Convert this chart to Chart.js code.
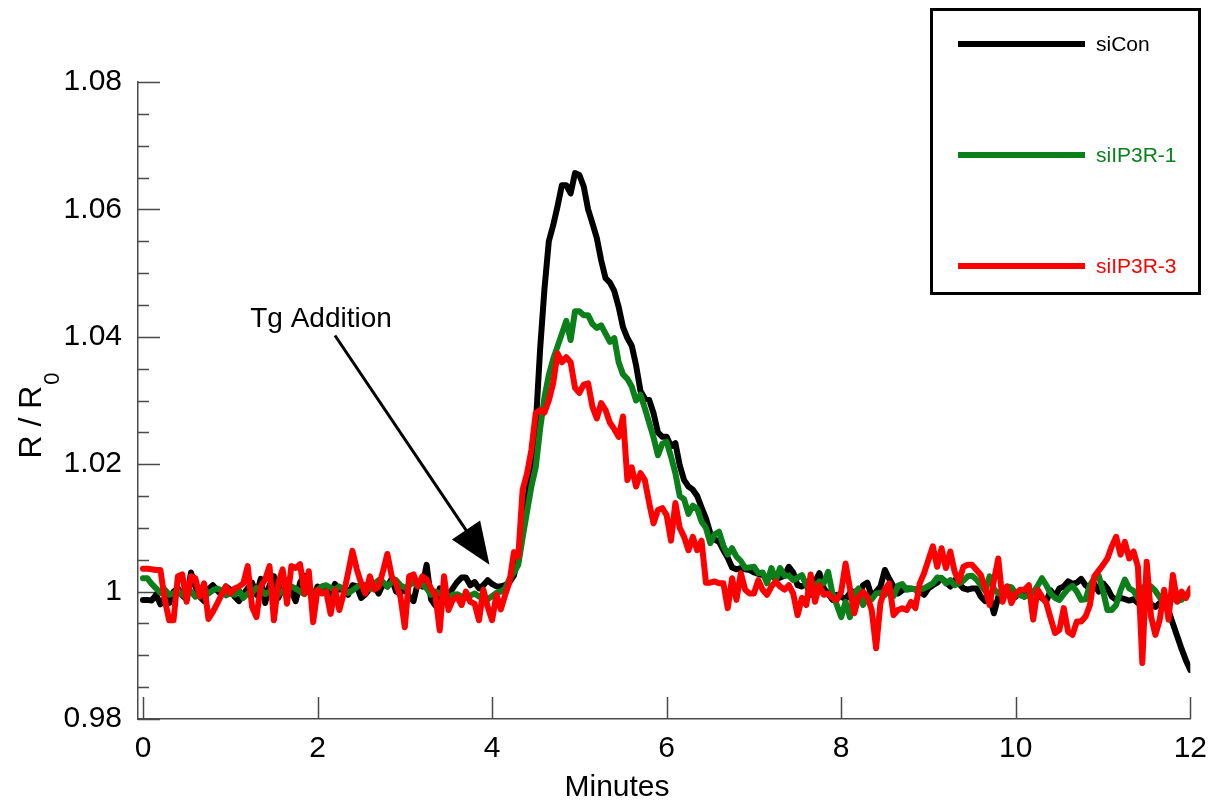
<!DOCTYPE html>
<html lang="en">
<head>
    <meta charset="UTF-8">
    <title>R / R0 after Tg addition</title>
    <script src="https://cdn.jsdelivr.net/npm/chart.js"></script>
    <style>
        body {
            margin: 0;
            background: #fff;
        }
        canvas {
            display: block;
        }
    </style>
</head>
<body>
<canvas id="traceChart" width="1219" height="807"></canvas>

<script>
    const seriesNames = ['siCon', 'siIP3R-1', 'siIP3R-3'];

    // time axis (minutes), one sample every 3 s
    const minutes = [
        0, 0.05, 0.1, 0.15, 0.2, 0.25, 0.3, 0.35, 0.4, 0.45, 0.5, 0.55, 0.6, 0.65, 0.7, 0.75, 0.8, 0.85, 0.9, 0.95,
        1, 1.05, 1.1, 1.15, 1.2, 1.25, 1.3, 1.35, 1.4, 1.45, 1.5, 1.55, 1.6, 1.65, 1.7, 1.75, 1.8, 1.85, 1.9, 1.95,
        2, 2.05, 2.1, 2.15, 2.2, 2.25, 2.3, 2.35, 2.4, 2.45, 2.5, 2.55, 2.6, 2.65, 2.7, 2.75, 2.8, 2.85, 2.9, 2.95,
        3, 3.05, 3.1, 3.15, 3.2, 3.25, 3.3, 3.35, 3.4, 3.45, 3.5, 3.55, 3.6, 3.65, 3.7, 3.75, 3.8, 3.85, 3.9, 3.95,
        4, 4.05, 4.1, 4.15, 4.2, 4.25, 4.3, 4.35, 4.4, 4.45, 4.5, 4.55, 4.6, 4.65, 4.7, 4.75, 4.8, 4.85, 4.9, 4.95,
        5, 5.05, 5.1, 5.15, 5.2, 5.25, 5.3, 5.35, 5.4, 5.45, 5.5, 5.55, 5.6, 5.65, 5.7, 5.75, 5.8, 5.85, 5.9, 5.95,
        6, 6.05, 6.1, 6.15, 6.2, 6.25, 6.3, 6.35, 6.4, 6.45, 6.5, 6.55, 6.6, 6.65, 6.7, 6.75, 6.8, 6.85, 6.9, 6.95,
        7, 7.05, 7.1, 7.15, 7.2, 7.25, 7.3, 7.35, 7.4, 7.45, 7.5, 7.55, 7.6, 7.65, 7.7, 7.75, 7.8, 7.85, 7.9, 7.95,
        8, 8.05, 8.1, 8.15, 8.2, 8.25, 8.3, 8.35, 8.4, 8.45, 8.5, 8.55, 8.6, 8.65, 8.7, 8.75, 8.8, 8.85, 8.9, 8.95,
        9, 9.05, 9.1, 9.15, 9.2, 9.25, 9.3, 9.35, 9.4, 9.45, 9.5, 9.55, 9.6, 9.65, 9.7, 9.75, 9.8, 9.85, 9.9, 9.95,
        10, 10.05, 10.1, 10.15, 10.2, 10.25, 10.3, 10.35, 10.4, 10.45, 10.5, 10.55, 10.6, 10.65, 10.7, 10.75, 10.8, 10.85, 10.9, 10.95,
        11, 11.05, 11.1, 11.15, 11.2, 11.25, 11.3, 11.35, 11.4, 11.45, 11.5, 11.55, 11.6, 11.65, 11.7, 11.75, 11.8, 11.85, 11.9, 11.95,
        12
    ];

    const siCon = [
        0.9987, 0.9987, 0.9986, 0.9995, 0.9980, 0.9990, 0.9982, 1.0000, 1.0005, 0.9994,
        0.9988, 1.0030, 1.0008, 0.9992, 0.9985, 1.0004, 1.0010, 1.0002, 0.9995, 1.0008,
        1.0003, 0.9992, 0.9985, 0.9996, 1.0005, 1.0014, 0.9995, 1.0020, 0.9982, 1.0010,
        1.0024, 0.9990, 1.0005, 1.0018, 1.0000, 0.9985, 1.0014, 1.0025, 1.0002, 0.9992,
        1.0008, 1.0000, 1.0005, 0.9995, 1.0012, 1.0003, 1.0005, 0.9995, 1.0010, 1.0008,
        0.9990, 0.9996, 1.0005, 1.0010, 0.9997, 1.0012, 1.0008, 1.0020, 1.0000, 0.9998,
        1.0005, 0.9992, 0.9985, 1.0015, 1.0008, 1.0042, 0.9988, 0.9978, 1.0005, 0.9990,
        0.9995, 1.0005, 1.0015, 1.0022, 1.0022, 1.0010, 1.0015, 1.0005, 1.0010, 1.0018,
        1.0012, 1.0008, 1.0008, 1.0010, 1.0015, 1.0025, 1.0055, 1.0092, 1.0140, 1.0195,
        1.0260, 1.0380, 1.0475, 1.0550, 1.0575, 1.0605, 1.0638, 1.0638, 1.0625, 1.0657,
        1.0654, 1.0636, 1.0600, 1.0578, 1.0555, 1.0520, 1.0492, 1.0485, 1.0472, 1.0447,
        1.0415, 1.0398, 1.0386, 1.0355, 1.0315, 1.0303, 1.0301, 1.0280, 1.0250, 1.0243,
        1.0243, 1.0228, 1.0233, 1.0198, 1.0175, 1.0165, 1.0160, 1.0150, 1.0132, 1.0115,
        1.0092, 1.0082, 1.0078, 1.0065, 1.0053, 1.0038, 1.0035, 1.0037, 1.0035, 1.0034,
        1.0030, 1.0028, 1.0026, 1.0022, 1.0025, 1.0020, 1.0022, 1.0025, 1.0039, 1.0030,
        1.0010, 1.0008, 1.0012, 0.9995, 1.0015, 1.0029, 1.0005, 0.9997, 0.9987, 0.9995,
        0.9992, 0.9988, 0.9998, 1.0000, 0.9992, 1.0010, 1.0014, 0.9992, 1.0000, 1.0008,
        1.0034, 1.0020, 1.0008, 0.9997, 1.0002, 1.0005, 1.0005, 1.0003, 1.0000, 0.9995,
        1.0005, 1.0010, 1.0014, 1.0021, 1.0015, 1.0008, 1.0018, 1.0012, 1.0005, 1.0003,
        1.0005, 1.0005, 0.9992, 0.9985, 0.9992, 0.9966, 0.9992, 1.0005, 1.0000, 0.9997,
        0.9992, 1.0000, 0.9992, 0.9997, 1.0000, 0.9995, 0.9990, 0.9985, 1.0002, 0.9992,
        1.0005, 1.0008, 1.0016, 1.0012, 1.0014, 1.0020, 1.0010, 1.0005, 1.0012, 1.0000,
        1.0013, 1.0005, 0.9992, 0.9987, 0.9990, 0.9988, 0.9986, 0.9988, 0.9982, 0.9978,
        0.9980, 0.9980, 0.9976, 0.9982, 0.9985, 0.9970, 0.9950, 0.9930, 0.9910, 0.9892,
        0.9877
    ];

    const siIP3R1 = [
        1.0021, 1.0021, 1.0012, 1.0005, 0.9998, 1.0003, 0.9995, 0.9997, 1.0002, 0.9995,
        1.0003, 1.0000, 0.9992, 0.9998, 1.0004, 0.9997, 1.0002, 1.0005, 1.0002, 0.9994,
        0.9998, 0.9995, 1.0002, 0.9990, 0.9997, 0.9998, 1.0006, 1.0003, 0.9996, 1.0000,
        1.0003, 0.9995, 1.0002, 1.0005, 1.0008, 1.0005, 1.0000, 0.9996, 1.0003, 0.9997,
        1.0002, 1.0008, 1.0010, 1.0006, 1.0003, 1.0008, 1.0004, 0.9998, 1.0002, 1.0007,
        1.0012, 1.0010, 1.0004, 1.0012, 1.0018, 1.0015, 1.0008, 1.0015, 1.0018, 1.0010,
        1.0006, 1.0010, 1.0015, 1.0008, 1.0012, 1.0005, 0.9995, 1.0000, 0.9997, 0.9998,
        0.9992, 0.9995, 0.9996, 0.9992, 0.9990, 0.9994, 0.9997, 0.9992, 0.9995, 0.9988,
        0.9993, 0.9998, 1.0000, 1.0005, 1.0020, 1.0030, 1.0042, 1.0085, 1.0125, 1.0165,
        1.0195, 1.0255, 1.0305, 1.0340, 1.0365, 1.0385, 1.0405, 1.0425, 1.0395, 1.0440,
        1.0440, 1.0434, 1.0434, 1.0420, 1.0414, 1.0418, 1.0405, 1.0392, 1.0398, 1.0360,
        1.0341, 1.0334, 1.0322, 1.0300, 1.0309, 1.0288, 1.0265, 1.0242, 1.0214, 1.0232,
        1.0235, 1.0212, 1.0186, 1.0150, 1.0145, 1.0122, 1.0135, 1.0130, 1.0110, 1.0100,
        1.0076, 1.0090, 1.0094, 1.0072, 1.0058, 1.0068, 1.0055, 1.0048, 1.0037, 1.0038,
        1.0039, 1.0029, 1.0030, 1.0013, 1.0037, 1.0018, 1.0037, 1.0025, 1.0025, 1.0018,
        1.0022, 1.0026, 1.0010, 1.0003, 1.0010, 1.0016, 1.0013, 1.0031, 0.9997, 0.9979,
        0.9960, 0.9984, 0.9960, 0.9997, 1.0005, 0.9979, 0.9990, 0.9988, 0.9997, 0.9998,
        0.9995, 1.0002, 0.9993, 1.0009, 1.0012, 1.0003, 1.0004, 1.0004, 1.0003, 1.0005,
        1.0009, 1.0013, 1.0022, 1.0021, 1.0013, 1.0018, 1.0010, 1.0013, 1.0017, 1.0024,
        1.0025, 1.0019, 1.0010, 1.0001, 1.0024, 1.0004, 0.9997, 0.9999, 1.0008, 1.0007,
        0.9997, 0.9994, 0.9992, 0.9994, 0.9998, 1.0009, 1.0021, 1.0010, 0.9997, 0.9990,
        0.9987, 0.9996, 1.0004, 1.0009, 1.0000, 0.9987, 0.9988, 1.0010, 1.0021, 1.0025,
        1.0001, 0.9971, 0.9971, 0.9979, 1.0002, 1.0019, 1.0005, 1.0001, 0.9990, 1.0005,
        1.0012, 1.0008, 1.0001, 0.9991, 0.9979, 0.9989, 0.9988, 0.9986, 0.9987, 0.9995,
        0.9997
    ];

    const siIP3R3 = [
        1.0036, 1.0036, 1.0035, 1.0034, 1.0034, 0.9987, 0.9955, 0.9955, 1.0024, 1.0027,
        0.9984, 1.0024, 1.0021, 0.9992, 1.0013, 0.9957, 0.9968, 0.9981, 0.9995, 1.0008,
        0.9997, 1.0005, 1.0008, 1.0013, 1.0040, 0.9976, 0.9960, 1.0008, 1.0019, 1.0040,
        0.9955, 1.0013, 1.0035, 0.9981, 1.0040, 1.0037, 1.0043, 0.9997, 1.0032, 0.9952,
        1.0003, 0.9997, 1.0000, 0.9965, 1.0003, 0.9971, 0.9997, 1.0029, 1.0064, 1.0035,
        1.0013, 0.9997, 1.0024, 1.0003, 1.0008, 1.0032, 1.0059, 1.0024, 1.0013, 0.9992,
        0.9944, 1.0024, 1.0027, 1.0008, 1.0024, 1.0019, 1.0005, 0.9995, 0.9939, 1.0024,
        0.9971, 0.9987, 0.9992, 0.9979, 1.0000, 0.9984, 0.9981, 0.9955, 1.0003, 0.9976,
        0.9955, 0.9995, 0.9972, 0.9995, 1.0015, 1.0062, 1.0055, 1.0160, 1.0185, 1.0222,
        1.0280, 1.0285, 1.0281, 1.0300, 1.0327, 1.0374, 1.0360, 1.0368, 1.0360, 1.0320,
        1.0312, 1.0325, 1.0327, 1.0290, 1.0272, 1.0296, 1.0285, 1.0265, 1.0255, 1.0243,
        1.0275, 1.0175, 1.0195, 1.0165, 1.0186, 1.0175, 1.0139, 1.0107, 1.0128, 1.0131,
        1.0120, 1.0080, 1.0139, 1.0100, 1.0086, 1.0065, 1.0086, 1.0065, 1.0080, 1.0014,
        1.0014, 1.0016, 1.0013, 1.0013, 0.9974, 1.0021, 0.9987, 1.0029, 1.0003, 0.9997,
        0.9997, 1.0018, 1.0003, 0.9995, 1.0008, 1.0016, 1.0008, 1.0003, 1.0010, 0.9997,
        0.9963, 0.9990, 0.9979, 1.0027, 0.9984, 1.0010, 0.9995, 0.9997, 0.9990, 0.9987,
        1.0000, 1.0044, 1.0005, 0.9966, 0.9992, 1.0000, 0.9992, 0.9971, 0.9911, 0.9982,
        1.0003, 1.0013, 0.9963, 0.9971, 0.9974, 0.9971, 0.9984, 0.9974, 1.0013, 1.0029,
        1.0050, 1.0071, 1.0039, 1.0068, 1.0037, 1.0063, 1.0031, 1.0016, 1.0039, 1.0042,
        1.0042, 1.0034, 1.0026, 1.0005, 0.9979, 1.0018, 1.0052, 0.9984, 1.0008, 0.9982,
        0.9997, 1.0003, 1.0003, 1.0010, 0.9956, 1.0003, 0.9992, 0.9982, 0.9958, 0.9935,
        0.9940, 0.9974, 0.9937, 0.9932, 0.9953, 0.9953, 0.9961, 0.9979, 1.0024, 1.0033,
        1.0042, 1.0052, 1.0071, 1.0086, 1.0058, 1.0078, 1.0052, 1.0063, 1.0039, 0.9888,
        1.0047, 0.9961, 0.9932, 0.9956, 1.0003, 0.9956, 1.0026, 0.9984, 1.0000, 0.9990,
        1.0005
    ];

    const xTicks = [0, 2, 4, 6, 8, 10, 12];
    const yTicks = [0.98, 1.00, 1.02, 1.04, 1.06, 1.08];
    const yTickLabels = ['0.98', '1', '1.02', '1.04', '1.06', '1.08'];
    const yMinorStep = 0.005;

    // Tg addition arrow, in data units (minutes, R/R0)
    const noteText = 'Tg Addition';
    const noteAt = {x: 2.04, y: 1.0427};
    const arrowFrom = {x: 2.2, y: 1.0402};
    const arrowTo = {x: 3.97, y: 1.0042};

    const FONT = '"Liberation Sans", Arial, Helvetica, sans-serif';
    const AXIS_COLOR = '#4a4a4a';
    const lineColors = ['#000000', '#0a7f1a', '#ff0000'];

    const decorPlugin = {
        id: 'decor',
        beforeDatasetsDraw(chart) {
            const {ctx, chartArea, scales: {x, y}} = chart;
            ctx.save();
            ctx.strokeStyle = AXIS_COLOR;
            ctx.lineWidth = 1.5;
            ctx.beginPath();
            // y major + minor ticks, pointing inward
            for (let v = yTicks[0]; v <= yTicks[yTicks.length - 1] + 1e-9; v += yMinorStep) {
                const py = Math.round(y.getPixelForValue(v)) + 0.5;
                const major = yTicks.some(t => Math.abs(t - v) < 1e-6);
                ctx.moveTo(chartArea.left, py);
                ctx.lineTo(chartArea.left + (major ? 22 : 11), py);
            }
            xTicks.forEach(v => {
                const px = Math.round(x.getPixelForValue(v)) + 0.5;
                ctx.moveTo(px, chartArea.bottom);
                ctx.lineTo(px, chartArea.bottom - 22);
            });
            ctx.stroke();
            ctx.restore();
        },
        afterDraw(chart) {
            const {ctx, scales: {x, y}} = chart;
            ctx.save();
            ctx.fillStyle = '#000';
            ctx.strokeStyle = '#000';

            // axis titles
            ctx.font = '30px ' + FONT;
            ctx.textAlign = 'center';
            ctx.textBaseline = 'middle';
            ctx.fillText('Minutes', 617, 788);

            ctx.save();
            ctx.translate(30, 416);
            ctx.rotate(-Math.PI / 2);
            ctx.textBaseline = 'alphabetic';
            ctx.textAlign = 'left';
            ctx.font = '32px ' + FONT;
            const main = 'R / R';
            const wMain = ctx.measureText(main).width;
            ctx.font = '22px ' + FONT;
            const wSub = ctx.measureText('0').width;
            const x0 = -(wMain + wSub) / 2;
            ctx.font = '32px ' + FONT;
            ctx.fillText(main, x0, 11);
            ctx.font = '22px ' + FONT;
            ctx.fillText('0', x0 + wMain + 1, 29);
            ctx.restore();

            // annotation
            ctx.font = '28px ' + FONT;
            ctx.textAlign = 'center';
            ctx.textBaseline = 'middle';
            ctx.fillText(noteText, x.getPixelForValue(noteAt.x), y.getPixelForValue(noteAt.y));

            const tx = x.getPixelForValue(arrowTo.x), ty = y.getPixelForValue(arrowTo.y);
            const fx = x.getPixelForValue(arrowFrom.x), fy = y.getPixelForValue(arrowFrom.y);
            const len = Math.hypot(tx - fx, ty - fy);
            const ux = (tx - fx) / len, uy = (ty - fy) / len;
            const headLen = 42, headHalf = 17;
            const bx = tx - ux * headLen, by = ty - uy * headLen;
            ctx.lineWidth = 3;
            ctx.beginPath();
            ctx.moveTo(fx, fy);
            ctx.lineTo(bx + ux * 4, by + uy * 4);
            ctx.stroke();
            ctx.beginPath();
            ctx.moveTo(tx, ty);
            ctx.lineTo(bx - uy * headHalf, by + ux * headHalf);
            ctx.lineTo(bx + uy * headHalf, by - ux * headHalf);
            ctx.closePath();
            ctx.fill();

            // legend box
            ctx.lineWidth = 3;
            ctx.strokeRect(931.5, 9.5, 268, 284);
            const rows = [44, 155, 266];
            ctx.font = '21px ' + FONT;
            ctx.textAlign = 'left';
            ctx.textBaseline = 'middle';
            chart.data.datasets.forEach((ds, i) => {
                ctx.strokeStyle = ds.borderColor;
                ctx.lineWidth = 6;
                ctx.beginPath();
                ctx.moveTo(958, rows[i]);
                ctx.lineTo(1085, rows[i]);
                ctx.stroke();
                ctx.fillStyle = ds.borderColor;
                ctx.fillText(ds.label, 1096, rows[i] + 1);
            });
            ctx.restore();
        }
    };

    const ctx = document.getElementById('traceChart').getContext('2d');
    const chart = new Chart(ctx, {
        type: 'line',
        data: {
            labels: minutes,
            datasets: [
                {label: seriesNames[0], data: siCon, borderColor: lineColors[0], order: 3},
                {label: seriesNames[1], data: siIP3R1, borderColor: lineColors[1], order: 2},
                {label: seriesNames[2], data: siIP3R3, borderColor: lineColors[2], order: 1}
            ].map(ds => Object.assign(ds, {
                borderWidth: 6,
                pointRadius: 0,
                tension: 0,
                fill: false,
                borderJoinStyle: 'round',
                borderCapStyle: 'round'
            }))
        },
        options: {
            responsive: false,
            animation: false,
            layout: {padding: {top: 82, right: 26, left: 0, bottom: 0}},
            plugins: {
                legend: {display: false},
                tooltip: {enabled: false}
            },
            scales: {
                x: {
                    type: 'linear',
                    min: -0.057,
                    max: 12,
                    afterBuildTicks: scale => {
                        scale.ticks = xTicks.map(v => ({value: v}));
                    },
                    afterFit: scale => {
                        scale.height = 88;
                    },
                    grid: {display: false, drawTicks: false},
                    border: {display: true, color: AXIS_COLOR, width: 1.5},
                    ticks: {
                        autoSkip: false,
                        maxRotation: 0,
                        color: '#000',
                        padding: 12,
                        font: {family: FONT, size: 30},
                        callback: v => String(v)
                    }
                },
                y: {
                    min: 0.98,
                    max: 1.08,
                    afterBuildTicks: scale => {
                        scale.ticks = yTicks.map(v => ({value: v}));
                    },
                    afterFit: scale => {
                        scale.width = 138;
                    },
                    grid: {display: false, drawTicks: false},
                    border: {display: true, color: AXIS_COLOR, width: 1.5},
                    ticks: {
                        autoSkip: false,
                        color: '#000',
                        padding: 16,
                        font: {family: FONT, size: 30},
                        callback: (v, i) => yTickLabels[i]
                    }
                }
            }
        },
        plugins: [decorPlugin]
    });
</script>
</body>
</html>
